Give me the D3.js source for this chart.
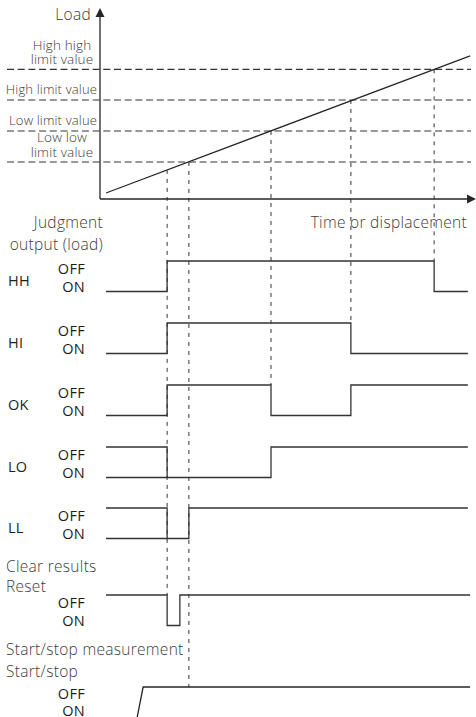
<!DOCTYPE html>
<html>
<head>
<meta charset="utf-8">
<script src="https://cdn.jsdelivr.net/npm/d3@7"></script>
<style>
  html, body { margin: 0; padding: 0; background: #fff; }
  svg { display: block; }
  .lt { font-family: "Open Sans", "DejaVu Sans", sans-serif; font-weight: 300; fill: #3c3c3c; letter-spacing: 0.3px; }
  .dk { font-family: "Open Sans", "DejaVu Sans", sans-serif; font-weight: 500; fill: #1e1e1e; letter-spacing: 0.3px; }
</style>
</head>
<body>
<svg id="chart" width="476" height="717"></svg>
<script>
// ---------------- DATA ----------------
// Load graph (time units 0..100, load units 0..100)
const limitNames   = [["High high", "limit value"], ["High limit value"], ["Low limit value"], ["Low low", "limit value"]];
const limitValues  = [68.6, 52.4, 36.0, 19.6];
const loadTimes    = [1.6, 98.7];
const loadValues   = [3.2, 75.7];
// Guide lines: event time, load at that time, row it reaches
const guideTimes   = [17.9, 23.7, 45.6, 66.9, 89.1];
const guideLoads   = [15.4, 19.6, 36.0, 52.4, 68.6];
const guideRows    = ["Reset", "Start/stop", "OK", "HI", "HH"];
// Timing rows (state: 1 = OFF, 0 = ON), [time, state]
const rowNames     = ["HH", "HI", "OK", "LO", "LL", "Reset", "Start/stop"];
const hhSteps      = [[1.6, 0], [17.9, 1], [89.1, 0], [98.1, 0]];
const hiSteps      = [[1.6, 0], [17.9, 1], [66.9, 0], [98.1, 0]];
const okSteps      = [[1.6, 0], [17.9, 1], [45.6, 0], [66.9, 1], [98.1, 1]];
const loSteps      = [[1.6, 1], [17.9, 0], [45.6, 1], [98.1, 1]];
const loOnStub     = [[1.6, 0], [17.9, 0]];
const llSteps      = [[1.6, 1], [17.9, 0], [23.7, 1], [98.1, 1]];
const llOnStub     = [[1.6, 0], [17.9, 0]];
const resetSteps   = [[1.6, 1], [17.9, 0], [21.3, 1], [98.7, 1]];
const startPoints  = [[9.9, 0], [11.5, 1], [98.7, 1]];
const axisTitles   = ["Load", "Time or displacement"];
const stateLabels  = ["OFF", "ON"];

// ---------------- LAYOUT ----------------
const svg = d3.select("#chart");
const x = d3.scaleLinear().domain([0, 100]).range([100, 475]);
const yLoad = d3.scaleLinear().domain([0, 100]).range([199, 10]);
const rowOffY = {"HH": 261, "HI": 323, "OK": 385, "LO": 447, "LL": 508, "Reset": 595, "Start/stop": 687};
const levelH = 30.5;
const yState = (row, s) => rowOffY[row] + (s ? 0 : levelH);

const ink = "#262626";
const bigFont = 15.5;

// limit dashed lines
const lim = svg.append("g");
limitValues.forEach((v, i) => {
  lim.append("line")
    .attr("x1", 7).attr("x2", 471)
    .attr("y1", yLoad(v)).attr("y2", yLoad(v))
    .attr("stroke", "#333").attr("stroke-width", 1.1)
    .attr("stroke-dasharray", "7,3.7");
  const lines = limitNames[i];
  if (lines.length === 1) {
    lim.append("text").attr("class", "lt")
      .attr("x", 97).attr("y", yLoad(v) - 5.5)
      .attr("text-anchor", "end").attr("font-size", 13)
      .style("letter-spacing", "0.15px")
      .text(lines[0]);
  } else {
    lines.forEach((t, j) => {
      lim.append("text").attr("class", "lt")
        .attr("x", 62).attr("y", yLoad(v) - 5 - (lines.length - 1 - j) * 14.5)
        .attr("text-anchor", "middle").attr("font-size", 13.5)
        .style("letter-spacing", "0.15px")
        .text(t);
    });
  }
});

// guide dashed verticals
guideTimes.forEach((t, i) => {
  svg.append("line")
    .attr("x1", x(t)).attr("x2", x(t))
    .attr("y1", yLoad(guideLoads[i])).attr("y2", rowOffY[guideRows[i]])
    .attr("stroke", "#333").attr("stroke-width", 1)
    .attr("stroke-dasharray", "4,5");
});

// axes
const x0 = x(0), y0 = yLoad(0);
svg.append("line").attr("x1", x0).attr("x2", x0).attr("y1", y0).attr("y2", 15)
  .attr("stroke", ink).attr("stroke-width", 1.3);
svg.append("path").attr("d", `M${x0},8 L${x0 - 4.5},17 L${x0 + 4.5},17 Z`).attr("fill", ink);
svg.append("line").attr("x1", x0).attr("x2", 468).attr("y1", y0).attr("y2", y0)
  .attr("stroke", ink).attr("stroke-width", 1.3);
svg.append("path").attr("d", `M476,${y0} L467,${y0 - 4.5} L467,${y0 + 4.5} Z`).attr("fill", ink);

svg.append("text").attr("class", "lt").attr("x", 91).attr("y", 20)
  .attr("text-anchor", "end").attr("font-size", bigFont).text(axisTitles[0]);
svg.append("text").attr("class", "lt").attr("x", 467).attr("y", 228)
  .attr("text-anchor", "end").attr("font-size", bigFont).text(axisTitles[1]);

// load line
const loadLine = d3.line().x(d => x(d[0])).y(d => yLoad(d[1]));
svg.append("path")
  .attr("d", loadLine(loadTimes.map((t, i) => [t, loadValues[i]])))
  .attr("fill", "none").attr("stroke", ink).attr("stroke-width", 1.2);

// judgment header
svg.append("text").attr("class", "lt").attr("x", 103).attr("y", 228)
  .attr("text-anchor", "end").attr("font-size", bigFont).text("Judgment");
svg.append("text").attr("class", "lt").attr("x", 103).attr("y", 250)
  .attr("text-anchor", "end").attr("font-size", bigFont).text("output (load)");

// rows
const steps = {"HH": hhSteps, "HI": hiSteps, "OK": okSteps, "LO": loSteps, "LL": llSteps, "Reset": resetSteps};
const stubs = {"LO": loOnStub, "LL": llOnStub};
rowNames.forEach(row => {
  const line = d3.line().x(d => x(d[0])).y(d => yState(row, d[1]));
  if (row === "Start/stop") {
    svg.append("path").attr("d", line(startPoints))
      .attr("fill", "none").attr("stroke", ink).attr("stroke-width", 1.3);
  } else {
    svg.append("path").attr("d", line.curve(d3.curveStepAfter)(steps[row]))
      .attr("fill", "none").attr("stroke", "#333").attr("stroke-width", 1.3);
    if (stubs[row]) {
      svg.append("path").attr("d", d3.line().x(d => x(d[0])).y(d => yState(row, d[1]))(stubs[row]))
        .attr("fill", "none").attr("stroke", "#333").attr("stroke-width", 1.3);
    }
  }
  const oy = rowOffY[row];
  const isLast = row === "Start/stop";
  const offY = isLast ? oy + 11.5 : oy + 12.5;
  const onY = isLast ? 715.5 : oy + levelH;
  svg.append("text").attr("class", "dk").attr("x", 85).attr("y", offY)
    .attr("text-anchor", "end").attr("font-size", 14.5).text(stateLabels[0]);
  svg.append("text").attr("class", "dk").attr("x", 85).attr("y", onY)
    .attr("text-anchor", "end").attr("font-size", 14.5).text(stateLabels[1]);
  if (row !== "Reset" && row !== "Start/stop") {
    svg.append("text").attr("class", "dk").attr("x", 8).attr("y", oy + 25)
      .attr("font-size", 14.5).text(row);
  }
});

// reset / start titles
svg.append("text").attr("class", "lt").attr("x", 6).attr("y", 572).attr("font-size", bigFont).text("Clear results");
svg.append("text").attr("class", "lt").attr("x", 6).attr("y", 592).attr("font-size", bigFont).text("Reset");
svg.append("text").attr("class", "lt").attr("x", 6).attr("y", 655).attr("font-size", bigFont).text("Start/stop measurement");
svg.append("text").attr("class", "lt").attr("x", 6).attr("y", 677).attr("font-size", bigFont).text("Start/stop");
</script>
</body>
</html>
